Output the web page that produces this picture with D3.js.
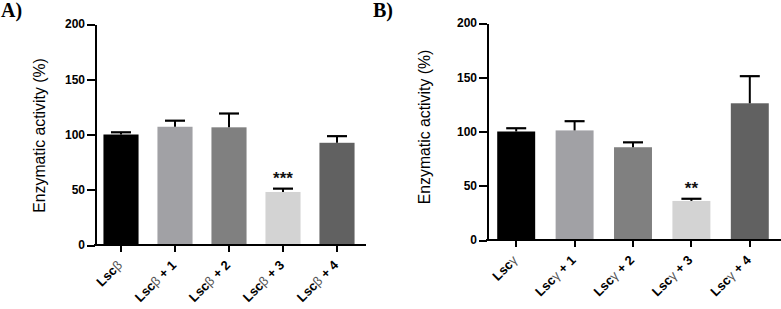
<!DOCTYPE html>
<html>
<head>
<meta charset="utf-8">
<script src="https://cdn.jsdelivr.net/npm/d3@7/dist/d3.min.js"></script>
<style>
  body { margin: 0; background: #fff; }
  svg { display: block; }
</style>
</head>
<body>
<script>
// data
const groupsA = ["Lscβ", "Lscβ + 1", "Lscβ + 2", "Lscβ + 3", "Lscβ + 4"];
const meanA = [100, 107, 106.5, 48, 92.5];
const errA = [2, 5.5, 12.5, 3, 6];
const starsA = ["", "", "", "***", ""];

const groupsB = ["Lscγ", "Lscγ + 1", "Lscγ + 2", "Lscγ + 3", "Lscγ + 4"];
const meanB = [100, 101, 85.5, 36, 126];
const errB = [3, 8.5, 4.5, 2, 25];
const starsB = ["", "", "", "**", ""];

const yTicks = [0, 50, 100, 150, 200];
const barColors = ["#000000", "#a1a1a5", "#808080", "#d3d3d3", "#616161"];

const svg = d3.select("body").append("svg")
  .attr("width", 781)
  .attr("height", 309);

function panel(opt) {
  const g = svg.append("g");

  const y = d3.scaleLinear().domain([0, 200]).range([opt.y0, opt.y1]);
  const x = d3.scaleBand().domain(opt.groups).range([opt.xl, opt.xr]).paddingInner(0.35).paddingOuter(0.175);

  const rows = opt.groups.map((k, i) => ({ k, v: opt.mean[i], e: opt.err[i], s: opt.stars[i], c: barColors[i] }));
  const cx = d => x(d.k) + x.bandwidth() / 2;

  // bars
  g.selectAll("rect.bar").data(rows).join("rect")
    .attr("class", "bar")
    .attr("x", d => x(d.k))
    .attr("width", x.bandwidth())
    .attr("y", d => y(d.v))
    .attr("height", d => y(0) - y(d.v))
    .attr("fill", d => d.c);

  // error bars (upper only)
  const cap = 10;
  g.selectAll("line.err").data(rows).join("line")
    .attr("class", "err")
    .attr("x1", cx).attr("x2", cx)
    .attr("y1", d => y(d.v))
    .attr("y2", d => y(d.v + d.e))
    .attr("stroke", "#000").attr("stroke-width", 2);
  g.selectAll("line.cap").data(rows).join("line")
    .attr("class", "cap")
    .attr("x1", d => cx(d) - cap)
    .attr("x2", d => cx(d) + cap)
    .attr("y1", d => y(d.v + d.e))
    .attr("y2", d => y(d.v + d.e))
    .attr("stroke", "#000").attr("stroke-width", 2.2);

  // significance stars
  g.selectAll("text.star").data(rows.filter(d => d.s)).join("text")
    .attr("class", "star")
    .attr("x", cx)
    .attr("y", d => y(d.v + d.e) - 5)
    .attr("text-anchor", "middle")
    .style("font", "bold 17px Arial, 'Liberation Sans', sans-serif")
    .attr("fill", "#111")
    .text(d => d.s);

  // y axis
  const ya = g.append("g")
    .attr("transform", `translate(${opt.xa},0)`)
    .call(d3.axisLeft(y).tickValues(yTicks).tickSize(8).tickSizeOuter(0).tickPadding(2));
  ya.select(".domain").attr("stroke-width", 2).attr("shape-rendering", "crispEdges");
  ya.selectAll(".tick line").attr("stroke-width", 2).attr("shape-rendering", "crispEdges");
  ya.selectAll(".tick text")
    .style("font", "bold 12px Arial, 'Liberation Sans', sans-serif")
    .attr("fill", "#000");

  // x axis
  const xa = g.append("g")
    .attr("transform", `translate(0,${opt.y0})`)
    .call(d3.axisBottom(x).tickSize(7).tickSizeOuter(0).tickFormat(""));
  xa.select(".domain").remove();
  xa.selectAll(".tick line").attr("stroke-width", 2).attr("shape-rendering", "crispEdges");
  g.append("line")
    .attr("x1", opt.xa - 1).attr("x2", opt.xend)
    .attr("y1", y(0)).attr("y2", y(0))
    .attr("stroke", "#000").attr("stroke-width", 2)
    .attr("shape-rendering", "crispEdges");

  // rotated category labels, greek letter drawn lighter
  g.selectAll("text.cat").data(opt.groups).join("text")
    .attr("class", "cat")
    .attr("transform", d => `translate(${x(d) + x.bandwidth() / 2 + 2},${opt.y0 + 21}) rotate(-45)`)
    .attr("text-anchor", "end")
    .attr("fill", "#000")
    .style("font", "bold 13px Arial, 'Liberation Sans', sans-serif")
    .each(function (d) {
      const s = d3.select(this);
      const m = d.match(/^(Lsc)(.)(.*)$/);
      s.append("tspan").text(m[1]);
      s.append("tspan").attr("font-weight", "normal").attr("fill", "#555").text(m[2]);
      if (m[3]) s.append("tspan").text(m[3]);
    });

  // y label
  g.append("text")
    .attr("transform", `translate(${opt.labX},${opt.labY}) rotate(-90)`)
    .attr("text-anchor", "middle")
    .style("font", "15.8px Arial, 'Liberation Sans', sans-serif")
    .text("Enzymatic activity (%)");

  // panel letter
  g.append("text")
    .attr("x", opt.letterX).attr("y", 17)
    .style("font", "bold 20px 'Times New Roman', 'Liberation Serif', serif")
    .text(opt.letter);
}

panel({
  groups: groupsA, mean: meanA, err: errA, stars: starsA,
  y0: 245, y1: 24, xa: 95, xl: 94, xr: 364, xend: 366,
  labX: 44.5, labY: 135.5, letter: "A)", letterX: 1
});

panel({
  groups: groupsB, mean: meanB, err: errB, stars: starsB,
  y0: 240, y1: 23, xa: 487, xl: 487, xr: 779, xend: 781,
  labX: 430, labY: 127, letter: "B)", letterX: 373
});
</script>
</body>
</html>
